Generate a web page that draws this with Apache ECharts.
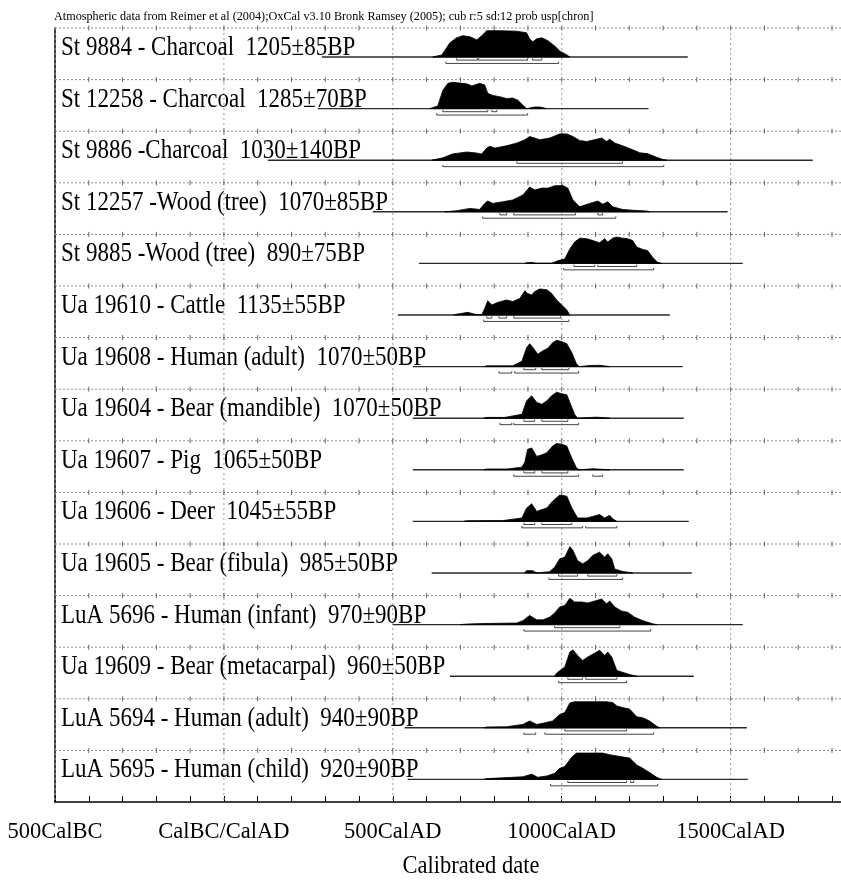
<!DOCTYPE html>
<html><head><meta charset="utf-8">
<script src="https://cdn.jsdelivr.net/npm/echarts@6/dist/echarts.min.js"></script>
<style>html,body{margin:0;padding:0;background:#fff}#c{width:841px;height:886px}</style>
</head><body><div id="c"></div>
<script>
// ---------- data ----------
const caption = 'Atmospheric data from Reimer et al (2004);OxCal v3.10 Bronk Ramsey (2005); cub r:5 sd:12 prob usp[chron]';
const labels = [
  'St 9884 - Charcoal  1205\u00b185BP',
  'St 12258 - Charcoal  1285\u00b170BP',
  'St 9886 -Charcoal  1030\u00b1140BP',
  'St 12257 -Wood (tree)  1070\u00b185BP',
  'St 9885 -Wood (tree)  890\u00b175BP',
  'Ua 19610 - Cattle  1135\u00b155BP',
  'Ua 19608 - Human (adult)  1070\u00b150BP',
  'Ua 19604 - Bear (mandible)  1070\u00b150BP',
  'Ua 19607 - Pig  1065\u00b150BP',
  'Ua 19606 - Deer  1045\u00b155BP',
  'Ua 19605 - Bear (fibula)  985\u00b150BP',
  'LuA 5696 - Human (infant)  970\u00b190BP',
  'Ua 19609 - Bear (metacarpal)  960\u00b150BP',
  'LuA 5694 - Human (adult)  940\u00b190BP',
  'LuA 5695 - Human (child)  920\u00b190BP'
];
const tickValues = [-500, 0, 500, 1000, 1500];
const tickLabels = ['500CalBC', 'CalBC/CalAD', '500CalAD', '1000CalAD', '1500CalAD'];
const minorYears = [-400,-300,-200,-100,0,100,200,300,400,500,600,700,800,900,1000,1100,1200,1300,1400,1500,1600,1700,1800];

// calibration range line for each row [from, to] (cal years)
const lineRanges = [[290,1373],[278,1257],[130,1743],[441,1491],[577,1536],[515,1320],[559,1358],[559,1361],[559,1361],[559,1376],[615,1385],[500,1536],[669,1391],[535,1548],[544,1551]];

// relative probability distributions [year, relative prob]
const dSt9884 = [[618,0],[645,0.08],[669,0.54],[689,0.73],[707,0.81],[728,0.77],[749,0.65],[763,0.81],[778,1.0],[817,1.0],[867,0.98],[896,0.92],[905,0.69],[914,0.58],[926,0.69],[941,0.73],[959,0.62],[979,0.42],[994,0.23],[1015,0.08],[1024,0]];
const dSt12258 = [[609,0],[633,0.1],[648,0.69],[663,0.96],[677,1.0],[719,0.94],[734,0.86],[757,0.96],[772,0.9],[781,0.58],[796,0.5],[817,0.45],[837,0.38],[855,0.4],[870,0.32],[885,0.13],[896,0],[920,0.06],[935,0.06],[956,0]];
const dSt9886 = [[615,0],[648,0.09],[677,0.24],[719,0.31],[743,0.28],[763,0.24],[778,0.46],[787,0.53],[802,0.46],[837,0.55],[867,0.65],[891,0.78],[905,0.9],[920,0.84],[935,0.78],[964,0.84],[994,1.0],[1015,1.0],[1033,0.9],[1053,0.75],[1074,0.71],[1104,0.8],[1118,0.84],[1133,0.71],[1142,0.8],[1157,0.65],[1180,0.55],[1210,0.4],[1231,0.28],[1254,0.25],[1281,0.11],[1299,0.03],[1311,0]];
const dSt12257 = [[654,0],[689,0.04],[728,0.13],[757,0.09],[772,0.32],[781,0.41],[796,0.32],[825,0.38],[855,0.45],[885,0.64],[905,0.94],[920,0.83],[941,0.9],[959,0.9],[979,0.99],[1003,1.0],[1018,0.9],[1033,0.45],[1053,0.19],[1083,0.32],[1107,0.41],[1121,0.29],[1136,0.38],[1151,0.19],[1180,0.09],[1210,0.06],[1252,0.03],[1260,0]];
const dSt9885 = [[890,0],[899,0.03],[914,0.03],[925,0],[970,0],[988,0.1],[1009,0.17],[1024,0.55],[1038,0.81],[1053,0.96],[1074,0.94],[1092,0.87],[1112,0.78],[1127,0.94],[1136,0.81],[1151,0.96],[1163,1.0],[1180,0.96],[1195,0.94],[1210,0.87],[1222,0.62],[1240,0.53],[1254,0.49],[1269,0.23],[1284,0.04],[1296,0]];
const dUa19610 = [[680,0],[689,0.03],[722,0.1],[743,0.03],[763,0],[772,0.25],[781,0.54],[793,0.38],[811,0.48],[837,0.57],[855,0.51],[876,0.63],[891,0.92],[899,0.82],[911,0.76],[920,0.89],[935,0.99],[956,0.96],[970,0.82],[985,0.57],[1000,0.38],[1015,0.19],[1024,0]];
const dUa19608 = [[770,0],[778,0.03],[817,0.03],[855,0.03],[882,0.2],[896,0.72],[905,0.87],[914,0.74],[929,0.47],[944,0.6],[959,0.7],[973,0.91],[985,1.0],[1000,0.95],[1015,0.87],[1030,0.53],[1044,0.09],[1053,0],[1083,0.04],[1112,0.05],[1142,0]];
const dUa19604 = [[770,0],[778,0.03],[831,0.03],[882,0.15],[896,0.66],[911,0.85],[926,0.6],[941,0.53],[956,0.66],[970,0.85],[985,0.99],[1000,0.93],[1015,0.89],[1024,0.6],[1038,0.15],[1047,0],[1104,0.04],[1142,0]];
const dUa19607 = [[770,0],[778,0.03],[837,0.03],[882,0.1],[891,0.3],[899,0.78],[911,0.83],[926,0.51],[941,0.57],[956,0.65],[973,0.9],[985,1.0],[1000,0.97],[1015,0.9],[1030,0.44],[1044,0.06],[1053,0],[1092,0.04],[1142,0]];
const dUa19606 = [[710,0],[719,0.02],[787,0.03],[825,0.03],[882,0.13],[896,0.51],[911,0.67],[926,0.38],[941,0.45],[956,0.51],[973,0.77],[994,1.0],[1015,0.96],[1030,0.51],[1047,0.13],[1074,0.13],[1092,0.19],[1112,0.26],[1127,0.13],[1142,0.23],[1151,0.1],[1163,0]];
const dUa19605 = [[890,0],[896,0.09],[914,0.09],[926,0],[964,0.05],[979,0.22],[994,0.54],[1009,0.6],[1024,1.0],[1033,0.86],[1047,0.47],[1062,0.35],[1077,0.47],[1092,0.67],[1112,0.79],[1127,0.6],[1136,0.73],[1148,0.54],[1157,0.15],[1180,0.06],[1210,0]];
const dLuA5696 = [[700,0],[719,0.02],[766,0.04],[867,0.06],[885,0.15],[905,0.35],[926,0.18],[944,0.18],[964,0.28],[979,0.44],[994,0.67],[1009,0.73],[1024,1.0],[1038,0.86],[1059,0.86],[1077,0.82],[1098,0.9],[1118,0.97],[1133,0.79],[1142,0.9],[1157,0.67],[1178,0.51],[1195,0.47],[1216,0.28],[1240,0.15],[1269,0.03],[1281,0]];
const dUa19609 = [[979,0],[985,0.12],[1009,0.35],[1024,0.92],[1033,1.0],[1047,0.79],[1062,0.6],[1077,0.73],[1098,0.88],[1112,0.99],[1127,0.79],[1136,0.92],[1148,0.73],[1163,0.22],[1180,0.15],[1201,0.06],[1222,0]];
const dLuA5694 = [[770,0],[778,0.03],[837,0.04],[885,0.13],[905,0.26],[926,0.13],[944,0.17],[973,0.26],[994,0.51],[1009,0.58],[1024,0.94],[1038,0.99],[1083,0.99],[1133,0.99],[1151,0.96],[1163,0.83],[1180,0.77],[1201,0.71],[1222,0.42],[1240,0.38],[1260,0.26],[1281,0.06],[1290,0]];
const dLuA5695 = [[770,0],[778,0.03],[885,0.1],[911,0.2],[929,0.08],[956,0.13],[979,0.23],[994,0.42],[1009,0.49],[1030,0.85],[1044,1.0],[1083,1.0],[1121,1.0],[1142,0.94],[1172,0.87],[1201,0.81],[1222,0.55],[1240,0.42],[1260,0.26],[1281,0.08],[1296,0]];
const densities = [dSt9884,dSt12258,dSt9886,dSt12257,dSt9885,dUa19610,dUa19608,dUa19604,dUa19607,dUa19606,dUa19605,dLuA5696,dUa19609,dLuA5694,dLuA5695];

// 68.2% and 95.4% highest-probability ranges
const range68 = [[[689,751],[754,899],[914,941]],[[648,781],[793,808]],[[867,1180]],[[817,837],[858,1041],[1107,1121]],[[1036,1098],[1107,1222]],[[778,793],[814,837],[858,997]],[[888,923],[941,1021]],[[888,920],[941,1018]],[[888,920],[941,1018]],[[888,920],[941,1030]],[[991,1047],[1077,1163]],[[979,1172]],[[1018,1062],[1071,1163]],[[1009,1192]],[[1018,1192],[1204,1213]]];
const range95 = [[[657,991]],[[630,899]],[[648,1302]],[[766,1160]],[[1006,1272]],[[769,1021]],[[814,852],[861,1050]],[[817,852],[858,1050]],[[858,1050],[1092,1121]],[[882,1062],[1071,1163]],[[962,1180]],[[888,1263]],[[991,1192]],[[888,923],[950,1272]],[[967,1284]]];

// ---------- layout constants (in y-axis units; one row = 1) ----------
const NROWS = 15;
const BASE_OFF = 0.562;   // baseline below row top
const PEAK = 0.51;        // height of a probability of 1
const OFF68 = 0.06, OFF95 = 0.125, BR_TICK = 0.035;

const chart = echarts.init(document.getElementById('c'), null, {renderer: 'canvas'});

function renderRow(params, api) {
  const i = params.dataIndex;
  const base = NROWS - i - BASE_OFF;
  const ch = [];
  const a = api.coord([lineRanges[i][0], base]);
  const b = api.coord([lineRanges[i][1], base]);
  ch.push({type: 'line', shape: {x1: a[0], y1: a[1], x2: b[0], y2: b[1]}, style: {stroke: '#2a2a2a', lineWidth: 1.4}});
  const d = densities[i];
  const pts = [api.coord([d[0][0], base])];
  d.forEach(function (p) { pts.push(api.coord([p[0], base + p[1] * PEAK])); });
  pts.push(api.coord([d[d.length - 1][0], base]));
  ch.push({type: 'polygon', shape: {points: pts}, style: {fill: '#000', stroke: '#000', lineWidth: 0.8}});
  function bracket(r, off) {
    const p = api.coord([r[0], base - off]), q = api.coord([r[1], base - off]);
    const t = api.coord([r[0], base - off + BR_TICK]);
    return {type: 'polyline', shape: {points: [[p[0], t[1]], p, q, [q[0], t[1]]]}, style: {stroke: '#444', lineWidth: 1, fill: null}};
  }
  range68[i].forEach(function (r) { ch.push(bracket(r, OFF68)); });
  range95[i].forEach(function (r) { ch.push(bracket(r, OFF95)); });
  const tl = api.coord([-500, base]);
  ch.push({type: 'text', x: tl[0] + 6, y: tl[1] + 4.5, scaleY: 1.18,
    style: {text: labels[i], fontFamily: '"Liberation Serif", "Times New Roman", serif', fontSize: 23, fill: '#000', align: 'left', verticalAlign: 'bottom'}});
  return {type: 'group', children: ch};
}

function renderSep(params, api) {
  const i = params.dataIndex;
  const yv = NROWS - i;
  const ch = [];
  const p = api.coord([-500, yv]);
  const W = api.getWidth();
  if (i < NROWS) {
    ch.push({type: 'line', shape: {x1: p[0], y1: p[1], x2: W, y2: p[1]}, style: {stroke: '#8a8a8a', lineWidth: 1, lineDash: [2, 2]}});
    minorYears.forEach(function (yr) {
      const q = api.coord([yr, yv]);
      ch.push({type: 'line', shape: {x1: q[0], y1: q[1] - 2.5, x2: q[0], y2: q[1] + 2.5}, style: {stroke: '#666', lineWidth: 1}});
    });
  } else {
    const e = api.coord([1800, yv]);
    ch.push({type: 'line', shape: {x1: e[0], y1: e[1], x2: W, y2: e[1]}, style: {stroke: '#000', lineWidth: 1.5}});
  }
  return {type: 'group', children: ch};
}

function renderMajor(params, api) {
  const yr = tickValues[params.dataIndex];
  const t = api.coord([yr, NROWS]), b = api.coord([yr, 0]);
  return {type: 'line', shape: {x1: t[0], y1: t[1], x2: b[0], y2: b[1]}, style: {stroke: '#9a9a9a', lineWidth: 1, lineDash: [2, 3]}};
}

const labelMap = {};
tickValues.forEach(function (v, k) { labelMap[v] = tickLabels[k]; });

chart.setOption({
  animation: false,
  backgroundColor: '#fff',
  title: {text: caption, left: 49, top: 6,
    textStyle: {fontFamily: '"Liberation Serif", serif', fontSize: 12.2, fontWeight: 'normal', color: '#000'}},
  graphic: [{type: 'text', x: 471, y: 867, scaleY: 1.1, style: {text: 'Calibrated date', fontFamily: '"Liberation Serif", serif', fontSize: 22.5, fill: '#000', align: 'center', verticalAlign: 'middle'}}],
  grid: {left: 55, right: 9, top: 28, bottom: 84, containLabel: false},
  xAxis: {type: 'value', min: -500, max: 1800, interval: 100,
    axisLine: {show: true, onZero: false, lineStyle: {color: '#000', width: 1.5}},
    axisTick: {show: true, inside: true, length: 6, lineStyle: {color: '#000', width: 1}},
    splitLine: {show: false},
    axisLabel: {margin: 19, fontFamily: '"Liberation Serif", serif', fontSize: 22.5, color: '#000',
      formatter: function (v) { return labelMap[v] !== undefined ? labelMap[v] : ''; }}},
  yAxis: {type: 'value', min: 0, max: NROWS, interval: 1,
    axisLine: {show: true, onZero: false, lineStyle: {color: '#000', width: 1.5}},
    axisTick: {show: false}, axisLabel: {show: false}, splitLine: {show: false}},
  series: [
    {type: 'custom', coordinateSystem: 'cartesian2d', z: 1, silent: true, clip: false,
      renderItem: renderMajor, encode: {x: 0, y: 1},
      data: tickValues.map(function (v) { return [v, 0]; })},
    {type: 'custom', coordinateSystem: 'cartesian2d', z: 2, silent: true, clip: false,
      renderItem: renderSep, encode: {x: 0, y: 1},
      data: [0,1,2,3,4,5,6,7,8,9,10,11,12,13,14,15].map(function (k) { return [-500, NROWS - k]; })},
    {type: 'custom', coordinateSystem: 'cartesian2d', z: 3, silent: true, clip: false,
      renderItem: renderRow, encode: {x: 0, y: 1},
      data: labels.map(function (l, k) { return [lineRanges[k][0], NROWS - k]; })}
  ]
});
</script></body></html>
